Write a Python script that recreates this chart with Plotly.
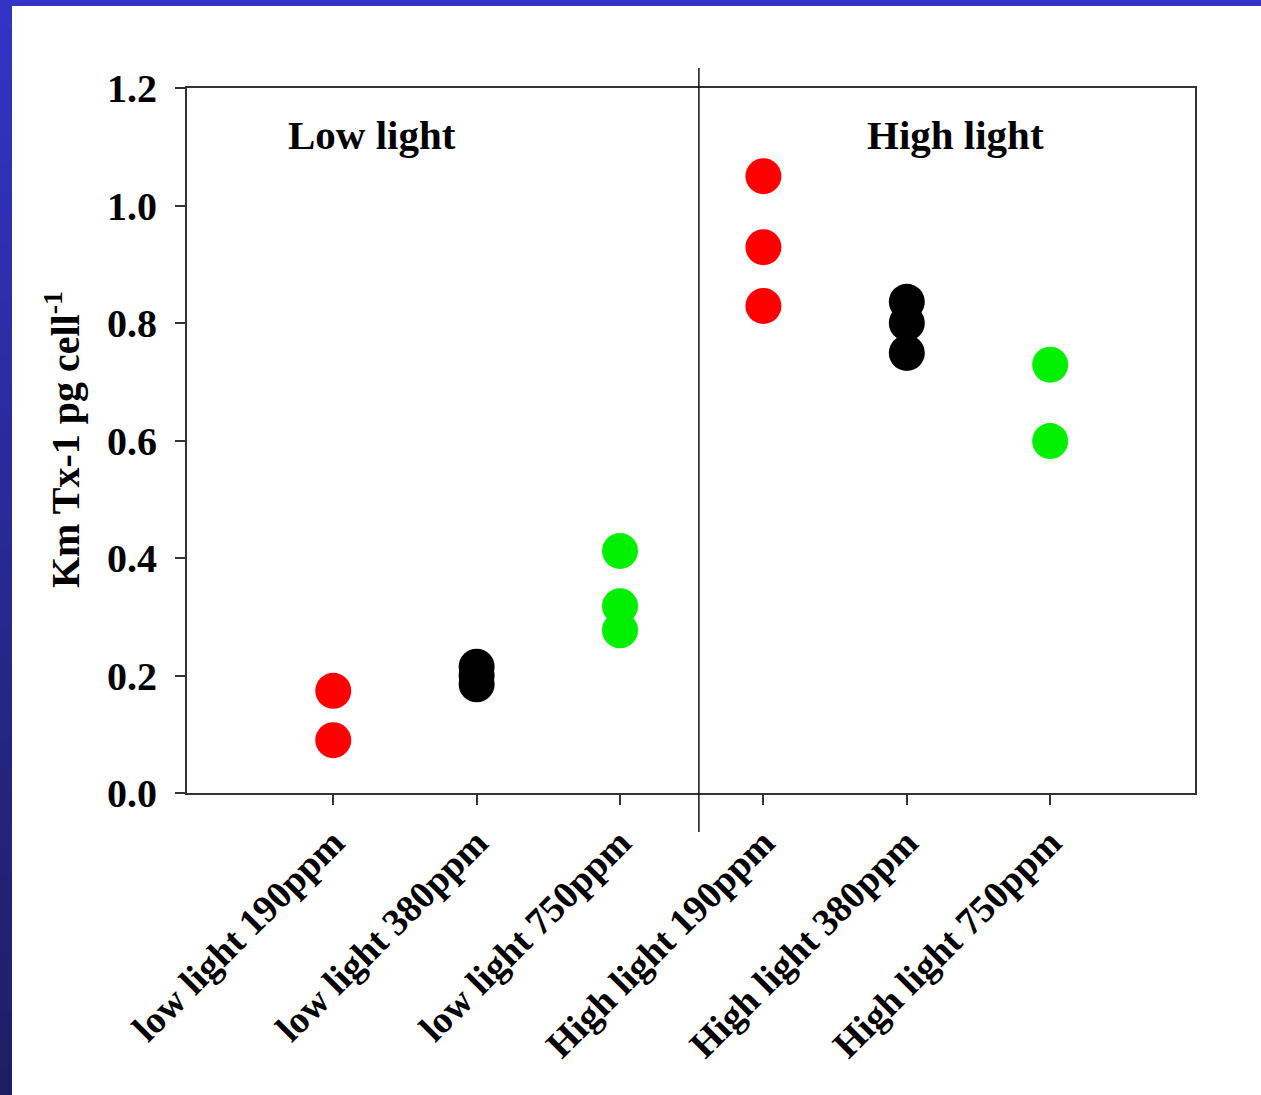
import plotly.graph_objects as go

categories = ["low light 190ppm", "low light 380ppm", "low light 750ppm",
              "High light 190ppm", "High light 380ppm", "High light 750ppm"]
values = [
    [0.174, 0.090],
    [0.215, 0.200, 0.185],
    [0.412, 0.318, 0.277],
    [1.050, 0.929, 0.829],
    [0.836, 0.800, 0.749],
    [0.729, 0.599],
]
colors = ["#ff0000", "#000000", "#00f000", "#ff0000", "#000000", "#00f000"]
y_ticks = [0.0, 0.2, 0.4, 0.6, 0.8, 1.0, 1.2]
panel_labels = ["Low light", "High light"]

FONT = "Liberation Serif, Times New Roman, serif"

fig = go.Figure()
for cat, vals, col in zip(categories, values, colors):
    fig.add_trace(go.Scatter(
        x=[cat] * len(vals), y=vals, mode="markers",
        marker=dict(size=36, color=col, line=dict(width=0)),
        showlegend=False))

W, H = 1261, 1095
L, R, T, B = 187, 66, 88, 302
pw, ph = W - L - R, H - T - B

def px(x):
    return (x - L) / pw

def py(y):
    return (H - B - y) / ph

shapes = []
# blue frame background: top strip + left gradient strip
shapes.append(dict(type="rect", xref="paper", yref="paper", layer="below",
                   x0=px(0), x1=px(W), y0=py(6), y1=py(0),
                   fillcolor="#3333c4", line=dict(width=0)))
n = 40
c0 = (51, 51, 196)
c1 = (30, 30, 100)
for i in range(n):
    t = i / (n - 1)
    c = tuple(int(round(c0[k] + (c1[k] - c0[k]) * t)) for k in range(3))
    y0p = i * H / n
    y1p = (i + 1) * H / n + 1
    shapes.append(dict(type="rect", xref="paper", yref="paper", layer="below",
                       x0=px(0), x1=px(12), y0=py(y1p), y1=py(y0p),
                       fillcolor="rgb(%d,%d,%d)" % c, line=dict(width=0)))
# divider line
shapes.append(dict(type="line", xref="x", yref="paper",
                   x0=2.55, x1=2.55, y0=py(832), y1=py(68),
                   line=dict(color="#111111", width=1.5)))

annotations = [
    dict(x=0.27, y=1.12, xref="x", yref="y", text="<b>%s</b>" % panel_labels[0],
         showarrow=False, font=dict(family=FONT, size=41, color="black")),
    dict(x=4.34, y=1.12, xref="x", yref="y", text="<b>%s</b>" % panel_labels[1],
         showarrow=False, font=dict(family=FONT, size=41, color="black")),
    dict(x=px(62), y=py(440), xref="paper", yref="paper", textangle=-90,
         xanchor="center", yanchor="middle",
         text="<b>Km Tx-1 pg cell<sup>-1</sup></b>", showarrow=False,
         font=dict(family=FONT, size=40, color="black")),
]

fig.update_layout(
    width=W, height=H,
    margin=dict(l=L, r=R, t=T, b=B, pad=0),
    paper_bgcolor="white", plot_bgcolor="white",
    shapes=shapes, annotations=annotations,
    font=dict(family=FONT, color="black"),
)
fig.update_xaxes(
    type="category", categoryorder="array", categoryarray=categories,
    range=[-1.02, 6.01], showgrid=False, zeroline=False,
    showline=True, mirror=True, linecolor="#333333", linewidth=2,
    ticks="outside", ticklen=10, tickwidth=2, tickcolor="#333333",
    tickangle=-45, tickfont=dict(family=FONT, size=38, color="black"),
    tickprefix="<b>", ticksuffix="</b>")
fig.update_yaxes(
    range=[0, 1.2], tickvals=y_ticks,
    ticktext=["<b>%.1f</b>" % v for v in y_ticks],
    showgrid=False, zeroline=False,
    showline=True, mirror=True, linecolor="#333333", linewidth=2,
    ticks="outside", ticklen=10, tickwidth=2, tickcolor="#333333",
    ticklabelstandoff=10,
    tickfont=dict(family=FONT, size=40, color="black"))

fig.write_html("out.html", config={"displayModeBar": False},
               post_script="document.body.style.margin='0';document.body.style.overflow='hidden';")
